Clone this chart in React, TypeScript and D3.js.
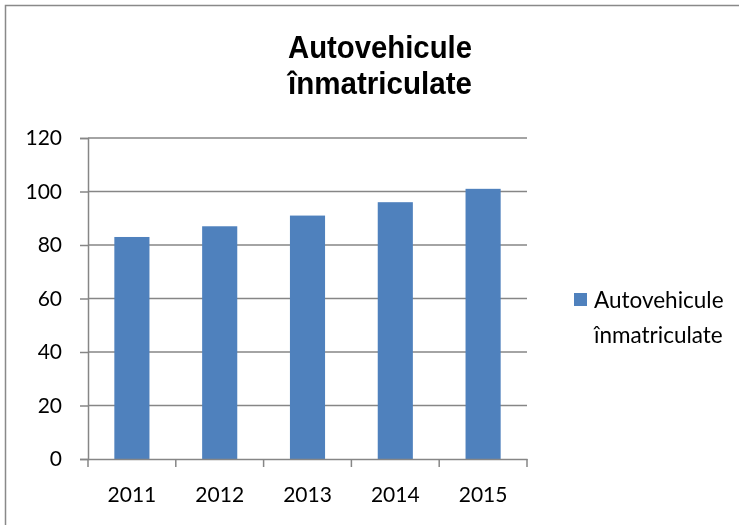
import { useEffect, useRef } from "react";
import * as d3 from "d3";

const years = ["2011", "2012", "2013", "2014", "2015"];
const values = [83, 87, 91, 96, 101];
const yTicks = [0, 20, 40, 60, 80, 100, 120];
const titleLines = ["Autovehicule", "înmatriculate"];
const legendLines = ["Autovehicule", "înmatriculate"];

export default function App() {
  const svgRef = useRef<SVGSVGElement>(null);
  const width = 739;
  const height = 525;

  useEffect(() => {
    if (!svgRef.current) return;
    const svg = d3.select(svgRef.current);
    svg.selectAll("*").remove();

    const labelFont = "Lato, 'Open Sans', sans-serif";
    const gridColor = "#868686";

    // outer frame, only top and left edges show in the crop
    svg
      .append("path")
      .attr("d", `M5.5,${height} V5.5 H${width}`)
      .attr("fill", "none")
      .attr("stroke", "#898989")
      .attr("stroke-width", 1.5);

    // title
    svg
      .append("g")
      .selectAll("text")
      .data(titleLines)
      .enter()
      .append("text")
      .attr("x", 380)
      .attr("y", (_, i) => 58 + i * 36)
      .attr("text-anchor", "middle")
      .attr("font-family", "'Liberation Sans', Arial, sans-serif")
      .attr("font-weight", "bold")
      .attr("font-size", 32)
      .attr("textLength", 184)
      .attr("lengthAdjust", "spacingAndGlyphs")
      .text((d) => d);

    const left = 88;
    const right = 527;
    const top = 138;
    const bottom = 459;

    const x = d3.scaleBand().domain(years).range([left, right]).paddingInner(0.6).paddingOuter(0.3);
    const y = d3.scaleLinear().domain([0, 120]).range([bottom, top]);

    // gridlines
    svg
      .append("g")
      .selectAll("line")
      .data(yTicks.filter((t) => t > 0))
      .enter()
      .append("line")
      .attr("x1", left)
      .attr("x2", right)
      .attr("y1", (d) => y(d))
      .attr("y2", (d) => y(d))
      .attr("stroke", gridColor)
      .attr("stroke-width", 1.5);

    // bars
    svg
      .append("g")
      .selectAll("rect")
      .data(values)
      .enter()
      .append("rect")
      .attr("x", (_, i) => x(years[i]) ?? 0)
      .attr("width", x.bandwidth())
      .attr("y", (d) => y(d))
      .attr("height", (d) => bottom - y(d))
      .attr("fill", "#4F81BD");

    // y axis
    const yAxis = svg
      .append("g")
      .attr("transform", `translate(${left},0)`)
      .call(d3.axisLeft(y).tickValues(yTicks).tickSize(8).tickPadding(18));
    yAxis.select(".domain").attr("stroke", gridColor).attr("stroke-width", 1.5);
    yAxis.selectAll(".tick line").attr("stroke", gridColor).attr("stroke-width", 1.5);
    yAxis
      .selectAll(".tick text")
      .attr("font-family", labelFont)
      .attr("font-size", 21)
      .attr("fill", "#000");

    // x axis
    const xAxis = svg
      .append("g")
      .attr("transform", `translate(0,${bottom})`)
      .call(d3.axisBottom(x).tickSize(0).tickPadding(28));
    xAxis.select(".domain").attr("stroke", gridColor).attr("stroke-width", 1.5);
    xAxis
      .selectAll(".tick text")
      .attr("font-family", labelFont)
      .attr("font-size", 21)
      .attr("fill", "#000");

    const step = (right - left) / years.length;
    svg
      .append("g")
      .selectAll("line")
      .data(d3.range(years.length + 1))
      .enter()
      .append("line")
      .attr("x1", (d) => left + d * step)
      .attr("x2", (d) => left + d * step)
      .attr("y1", bottom)
      .attr("y2", bottom + 8)
      .attr("stroke", gridColor)
      .attr("stroke-width", 1.5);

    // legend
    const legend = svg.append("g");
    legend
      .append("rect")
      .attr("x", 574)
      .attr("y", 293)
      .attr("width", 13)
      .attr("height", 13)
      .attr("fill", "#4F81BD");
    legend
      .append("text")
      .attr("font-family", labelFont)
      .attr("font-size", 22.5)
      .attr("fill", "#000")
      .selectAll("tspan")
      .data(legendLines)
      .enter()
      .append("tspan")
      .attr("x", 594)
      .attr("y", (_, i) => 308 + i * 35)
      .text((d) => d);

    return () => {
      svg.selectAll("*").remove();
    };
  }, []);

  return (
    <div style={{ position: "fixed", left: 0, top: 0 }}>
      <svg ref={svgRef} width={width} height={height} style={{ display: "block" }} />
    </div>
  );
}
